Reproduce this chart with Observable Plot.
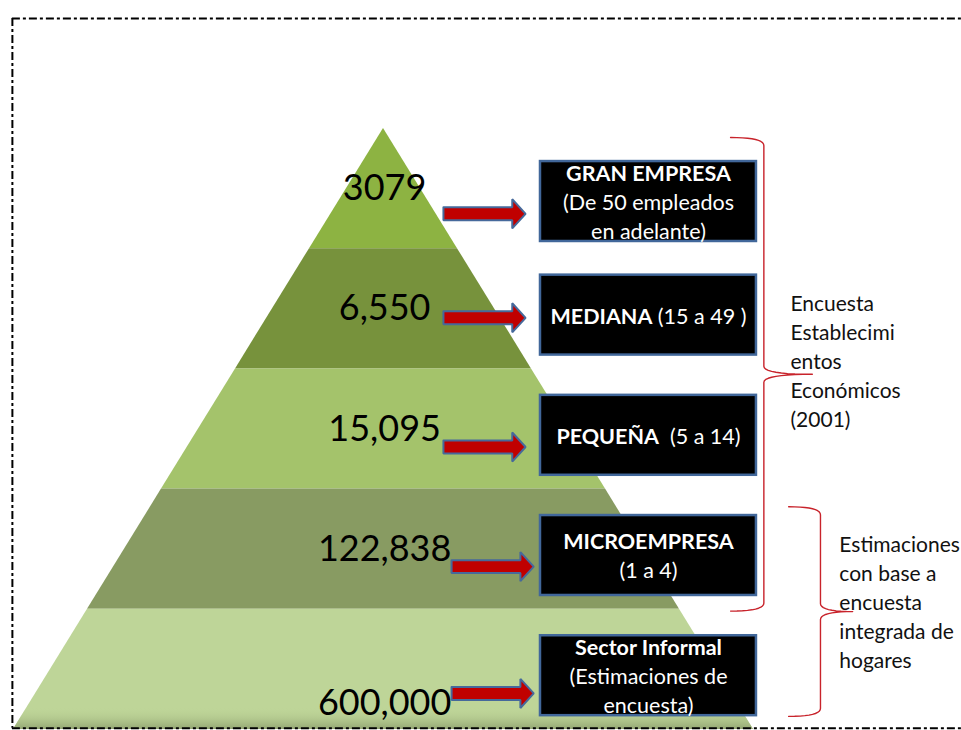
<!DOCTYPE html>
<html>
<head>
<meta charset="utf-8">
<script src="https://cdn.jsdelivr.net/npm/d3@7"></script>
<script src="https://cdn.jsdelivr.net/npm/@observablehq/plot@0.6"></script>
<style>
html, body { margin: 0; padding: 0; background: #fff; overflow: hidden; }
</style>
</head>
<body>
<div id="chart"></div>
<script>
// ---------- data ----------
const categories = ["GRAN EMPRESA", "MEDIANA", "PEQUEÑA", "MICROEMPRESA", "Sector Informal"];
const establishments = [3079, 6550, 15095, 122838, 600000];
const countLabels = ["3079", "6,550", "15,095", "122,838", "600,000"];
const boxBold = [["GRAN EMPRESA", "", ""], ["MEDIANA"], ["PEQUEÑA"], ["MICROEMPRESA", ""], ["Sector Informal", "", ""]];
const boxNormal = [["", "(De 50 empleados", "en adelante)"], [" (15 a 49 )"], ["  (5 a 14)"], ["", "(1 a 4)"], ["", "(Estimaciones de", "encuesta)"]];
const sourceNotes = ["Encuesta\nEstablecimi\nentos\nEconómicos\n(2001)", "Estimaciones\ncon base a\nencuesta\nintegrada de\nhogares"];

// ---------- styles ----------
const layerColors = ["#8db342", "#77923c", "#a4c36b", "#889b62", "#bed598"];

// ---------- layout (x: pyramid half-width units, y: pyramid levels) ----------
const arrowOffset = [0.71, 0.575, 0.65, 0.645, 0.70];
const boxShift = [0.055, 0, 0, 0, 0];

const layers = categories.flatMap((c, i) => [i, i + 1].map(y => ({cat: c, i, y, x1: -y / 5, x2: y / 5})));
const shade = [4.82, 5].map(y => ({y, x1: -y / 5, x2: y / 5}));

const labels = categories.map((c, i) => ({i, label: countLabels[i], value: establishments[i]}));

const arrowPts = categories.flatMap((c, i) => {
  const x0 = 0.162 + (i >= 3 ? 0.022 : 0), xt = x0 + 0.222, xh = xt - 0.036;
  const yc = i + arrowOffset[i], sh = 0.054, hh = 0.121;
  return [[x0, yc - sh], [xh, yc - sh], [xh, yc - hh], [xt, yc], [xh, yc + hh], [xh, yc + sh], [x0, yc + sh], [x0, yc - sh]]
    .map(([x, y]) => ({i, x, y}));
});

const boxX1 = 0.4243, boxX2 = 1.008, boxXc = (boxX1 + boxX2) / 2;
const boxes = categories.map((c, i) => ({i, cat: c}));
const boxLines = categories.flatMap((c, i) => boxBold[i].map((b, j) => ({i, j, n: boxBold[i].length, bold: b, normal: boxNormal[i][j]})));

function quad(p0, c, p1, n = 10) {
  return d3.range(n + 1).map(k => {
    const t = k / n, a = (1 - t) * (1 - t), b = 2 * (1 - t) * t, e = t * t;
    return [a * p0[0] + b * c[0] + e * p1[0], a * p0[1] + b * c[1] + e * p1[1]];
  });
}
const braceSpecs = [
  {x0: 0.938, xv: 1.028, xt: 1.159, top: 0.075, bottom: 4.015},
  {x0: 1.095, xv: 1.181, xt: 1.268, top: 3.147, bottom: 4.891}
];
const braceR = 0.067;
const bracePts = braceSpecs.flatMap((s, k) => {
  const m = (s.top + s.bottom) / 2;
  return [
    ...quad([s.x0, s.top], [s.xv, s.top], [s.xv, s.top + braceR]),
    ...quad([s.xv, m - braceR], [s.xv, m], [s.xt, m]),
    ...quad([s.xt, m], [s.xv, m], [s.xv, m + braceR]),
    ...quad([s.xv, s.bottom - braceR], [s.xv, s.bottom], [s.x0, s.bottom])
  ].map(([x, y]) => ({k, x, y}));
});
const notes = sourceNotes.map((t, k) => ({k, text: t, x: [1.1, 1.232][k], y: [1.92, 3.925][k]}));

const frameL = -1.003, frameT = -0.915, frameB = 4.99, frameR = 1.62;

const plot = Plot.plot({
  width: 961,
  height: 730,
  margin: 0,
  style: {fontFamily: "Lato, 'Open Sans', sans-serif", background: "white", overflow: "visible"},
  x: {domain: [-1, 1], range: [13, 753], axis: null},
  y: {domain: [0, 5], range: [128, 729], axis: null},
  color: {type: "identity"},
  marks: [
    Plot.areaX(layers, {y: "y", x1: "x1", x2: "x2", z: "cat", fill: d => layerColors[d.i], curve: "linear"}),
    Plot.areaX(shade, {y: "y", x1: "x1", x2: "x2", fill: "url(#baseShade)"}),
    Plot.text(labels, {x: () => 0.003, y: d => d.i + (d.i === 4 ? 0.78 : 0.5), text: "label", fontSize: 36, fill: "black"}),
    Plot.line(arrowPts, {x: "x", y: "y", z: "i", fill: "#c00000", stroke: "#46699b", strokeWidth: 2, strokeLinejoin: "miter", curve: "linear"}),
    Plot.rect(boxes, {x1: () => boxX1, x2: () => boxX2, y1: d => d.i + 0.22 + boxShift[d.i], y2: d => d.i + 0.885 + boxShift[d.i], fill: "black", stroke: "#41679a", strokeWidth: 2.5}),
    Plot.text(boxLines, {x: () => boxXc, y: d => d.i + 0.55 + boxShift[d.i] + (d.j - (d.n - 1) / 2) * 0.24 + 0.015, text: d => d.bold + d.normal, fill: "white", fontSize: 21.5}),
    Plot.line(bracePts, {x: "x", y: "y", z: "k", stroke: "#c8232b", strokeWidth: 1.4, curve: "linear"}),
    Plot.text(notes, {x: "x", y: "y", text: "text", textAnchor: "start", lineAnchor: "middle", lineHeight: 1.38, fontSize: 21, fill: "#111"}),
    Plot.ruleX([frameL], {y1: frameT, y2: frameB, stroke: "black", strokeWidth: 2, strokeDasharray: "8,3,3,3"}),
    Plot.ruleY([frameT, frameB], {x1: frameL, x2: frameR, stroke: "black", strokeWidth: 2, strokeDasharray: "8,3,3,3"})
  ]
});

// gradient for the shaded base of the pyramid
const svg = d3.select(plot);
const grad = svg.insert("defs", ":first-child").append("linearGradient")
  .attr("id", "baseShade").attr("x1", 0).attr("y1", 0).attr("x2", 0).attr("y2", 1);
grad.append("stop").attr("offset", "0%").attr("stop-color", "#bed598").attr("stop-opacity", 0);
grad.append("stop").attr("offset", "100%").attr("stop-color", "#93a673").attr("stop-opacity", 1);

// mixed bold / regular lines inside boxes (matched by their text)
const pending = boxLines.slice();
svg.selectAll("text").each(function () {
  const el = d3.select(this);
  const content = this.textContent;
  const idx = pending.findIndex(d => d.bold + d.normal === content);
  if (idx < 0) return;
  const d = pending.splice(idx, 1)[0];
  el.text(null).attr("xml:space", "preserve").style("white-space", "pre");
  if (d.bold) el.append("tspan").attr("font-weight", "700").style("font-weight", "700").text(d.bold);
  if (d.normal) el.append("tspan").attr("font-weight", "400").text(d.normal);
});

document.getElementById("chart").appendChild(plot);
</script>
</body>
</html>
